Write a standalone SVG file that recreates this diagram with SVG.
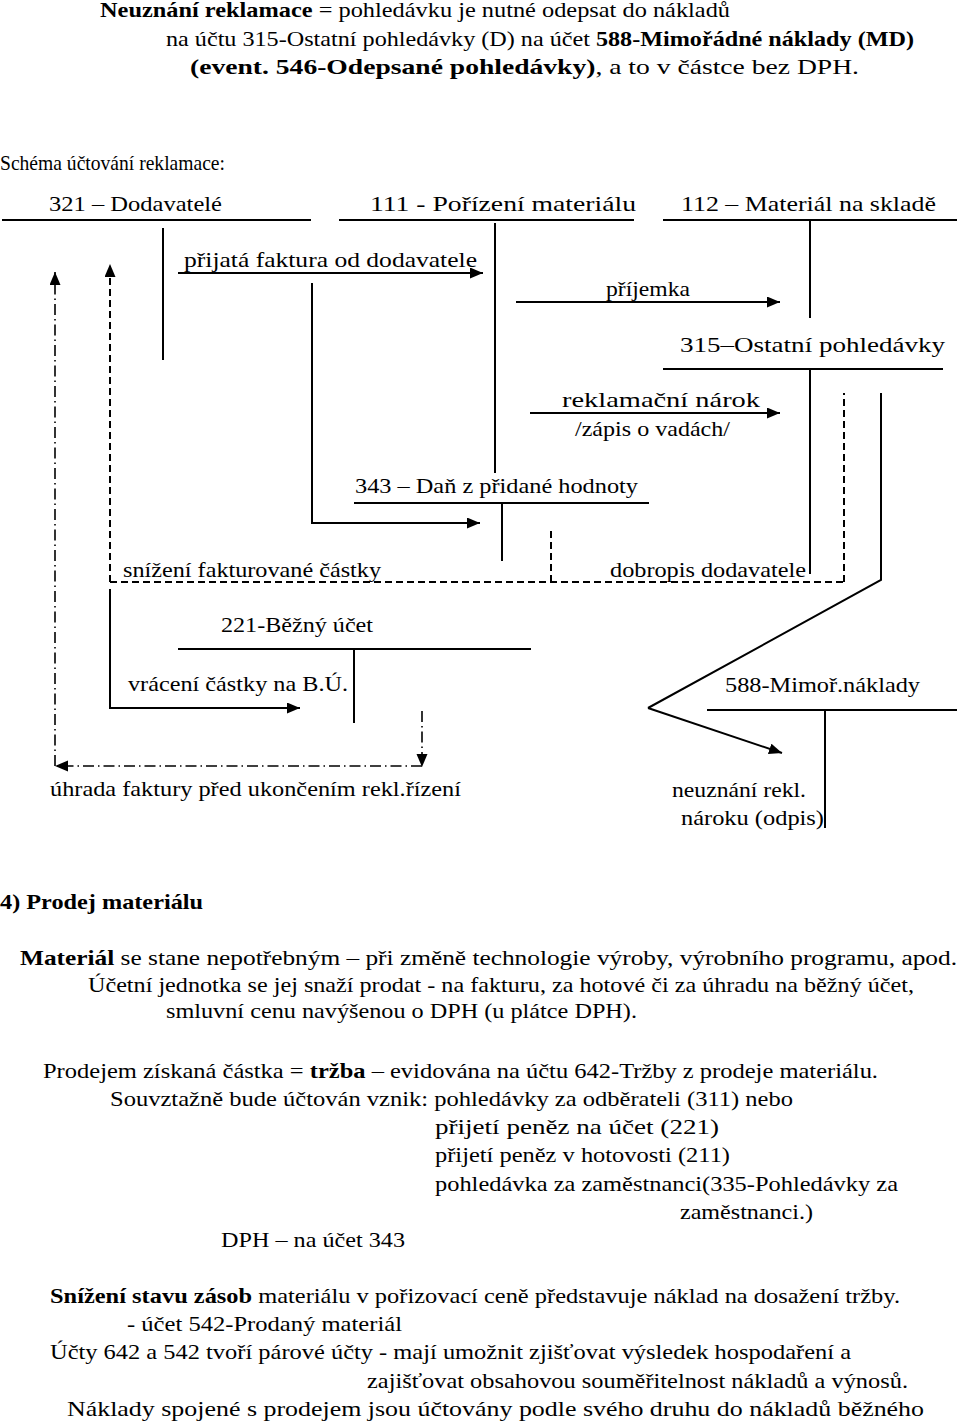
<svg xmlns="http://www.w3.org/2000/svg" width="960" height="1422" viewBox="0 0 960 1422">
<style>
text{font-family:"Liberation Serif","Times New Roman",serif;font-size:21px;fill:#000}
.b{font-weight:bold}
.t{font-size:22px}
.ln{stroke:#000;stroke-width:2;fill:none}
.da{stroke:#000;stroke-width:2;fill:none;stroke-dasharray:7 4}
.dd{stroke:#000;stroke-width:1.6;fill:none;stroke-dasharray:11 4 1.5 4}
</style>
<defs>
<marker id="ah" markerUnits="userSpaceOnUse" markerWidth="14" markerHeight="12" refX="13" refY="5.5" orient="auto">
<path d="M0,0 L13,5.5 L0,11 z" fill="#000"/>
</marker>
</defs>
<rect width="960" height="1422" fill="#fff"/>

<g id="intro">
<text x="100" y="17" textLength="630" lengthAdjust="spacingAndGlyphs"><tspan class="b">Neuznání reklamace</tspan> = pohledávku je nutné odepsat do nákladů</text>
<text x="166" y="46" textLength="748" lengthAdjust="spacingAndGlyphs">na účtu 315-Ostatní pohledávky (D) na účet <tspan class="b">588-Mimořádné náklady (MD)</tspan></text>
<text x="190" y="74" textLength="669" lengthAdjust="spacingAndGlyphs"><tspan class="b">(event. 546-Odepsané pohledávky)</tspan>, a to v částce bez DPH.</text>
<text x="0" y="170" textLength="225" lengthAdjust="spacingAndGlyphs">Schéma účtování reklamace:</text>
</g>

<g id="acc321">
<text x="49" y="211" textLength="173" lengthAdjust="spacingAndGlyphs">321 – Dodavatelé</text>
<line class="ln" x1="2" y1="220" x2="311" y2="220"/>
<line class="ln" x1="163" y1="228" x2="163" y2="360"/>
</g>
<g id="acc111">
<text x="370" y="211" textLength="266" lengthAdjust="spacingAndGlyphs">111 -  Pořízení materiálu</text>
<line class="ln" x1="339" y1="220" x2="634" y2="220"/>
<line class="ln" x1="495" y1="223" x2="495" y2="473"/>
</g>
<g id="acc112">
<text x="681" y="211" textLength="255" lengthAdjust="spacingAndGlyphs">112 – Materiál na skladě</text>
<line class="ln" x1="663" y1="220" x2="957" y2="220"/>
<line class="ln" x1="810" y1="220" x2="810" y2="318"/>
</g>
<g id="acc315">
<text x="680" y="352" textLength="265" lengthAdjust="spacingAndGlyphs">315–Ostatní pohledávky</text>
<line class="ln" x1="663" y1="369" x2="943" y2="369"/>
<line class="ln" x1="810" y1="369" x2="810" y2="574"/>
</g>
<g id="acc343">
<text x="355" y="493" textLength="283" lengthAdjust="spacingAndGlyphs">343 – Daň z přidané hodnoty</text>
<line class="ln" x1="354" y1="503" x2="649" y2="503"/>
<line class="ln" x1="502" y1="503" x2="502" y2="561"/>
</g>
<g id="acc221">
<text x="221" y="632" textLength="152" lengthAdjust="spacingAndGlyphs">221-Běžný účet</text>
<line class="ln" x1="178" y1="649" x2="531" y2="649"/>
<line class="ln" x1="354" y1="649" x2="354" y2="723"/>
</g>
<g id="acc588">
<text x="725" y="692" textLength="195" lengthAdjust="spacingAndGlyphs">588-Mimoř.náklady</text>
<line class="ln" x1="707" y1="710" x2="957" y2="710"/>
<line class="ln" x1="825" y1="710" x2="825" y2="828"/>
</g>

<g id="connectors">
<line class="ln" x1="178" y1="273" x2="483" y2="273" marker-end="url(#ah)"/>
<polyline class="ln" points="312,283 312,523 480,523" marker-end="url(#ah)"/>
<line class="ln" x1="516" y1="302" x2="780" y2="302" marker-end="url(#ah)"/>
<line class="ln" x1="530" y1="413" x2="780" y2="413" marker-end="url(#ah)"/>
<line class="da" x1="110" y1="582" x2="110" y2="264" marker-end="url(#ah)"/>
<line class="da" x1="110" y1="582" x2="844" y2="582"/>
<line class="da" x1="844" y1="582" x2="844" y2="393"/>
<line class="da" x1="551" y1="582" x2="551" y2="527"/>
<polyline class="ln" points="881,393 881,580 648,708"/>
<line class="ln" x1="648" y1="708" x2="782" y2="753" marker-end="url(#ah)"/>
<polyline class="ln" points="110,589 110,708 300,708" marker-end="url(#ah)"/>
<line class="dd" x1="422" y1="711" x2="422" y2="767" marker-end="url(#ah)"/>
<line class="dd" x1="422" y1="766" x2="55" y2="766" marker-end="url(#ah)"/>
<line class="dd" x1="55" y1="766" x2="55" y2="272" marker-end="url(#ah)"/>
</g>

<g id="labels">
<text x="184" y="267" textLength="293" lengthAdjust="spacingAndGlyphs">přijatá faktura od dodavatele</text>
<text x="606" y="296" textLength="84" lengthAdjust="spacingAndGlyphs">příjemka</text>
<text x="562" y="407" textLength="198" lengthAdjust="spacingAndGlyphs">reklamační nárok</text>
<text x="575" y="436" textLength="155" lengthAdjust="spacingAndGlyphs">/zápis o vadách/</text>
<text x="123" y="577" textLength="258" lengthAdjust="spacingAndGlyphs">snížení fakturované částky</text>
<text x="610" y="577" textLength="196" lengthAdjust="spacingAndGlyphs">dobropis dodavatele</text>
<text x="128" y="691" textLength="220" lengthAdjust="spacingAndGlyphs">vrácení částky na B.Ú.</text>
<text x="50" y="796" textLength="411" lengthAdjust="spacingAndGlyphs">úhrada faktury před ukončením rekl.řízení</text>
<text x="672" y="797" textLength="134" lengthAdjust="spacingAndGlyphs">neuznání rekl.</text>
<text x="681" y="825" textLength="143" lengthAdjust="spacingAndGlyphs">nároku (odpis)</text>
</g>

<g id="section4">
<text x="0" y="909" class="b" textLength="203" lengthAdjust="spacingAndGlyphs">4) Prodej materiálu</text>
<text x="20" y="965" textLength="937" lengthAdjust="spacingAndGlyphs"><tspan class="b">Materiál</tspan> se stane nepotřebným – při změně technologie výroby, výrobního programu, apod.</text>
<text x="88" y="992" textLength="826" lengthAdjust="spacingAndGlyphs">Účetní jednotka se jej snaží prodat - na fakturu, za hotové či za úhradu na běžný účet,</text>
<text x="166" y="1018" textLength="471" lengthAdjust="spacingAndGlyphs">smluvní cenu navýšenou o DPH (u plátce DPH).</text>
<text class="t" x="43" y="1078" textLength="835" lengthAdjust="spacingAndGlyphs">Prodejem získaná částka = <tspan class="b">tržba</tspan> – evidována na účtu 642-Tržby z prodeje materiálu.</text>
<text class="t" x="110" y="1106" textLength="683" lengthAdjust="spacingAndGlyphs">Souvztažně bude účtován vznik: pohledávky za odběrateli (311) nebo</text>
<text class="t" x="435" y="1134" textLength="284" lengthAdjust="spacingAndGlyphs">přijetí peněz na účet (221)</text>
<text class="t" x="435" y="1162" textLength="295" lengthAdjust="spacingAndGlyphs">přijetí peněz v hotovosti (211)</text>
<text class="t" x="435" y="1191" textLength="463" lengthAdjust="spacingAndGlyphs">pohledávka za zaměstnanci(335-Pohledávky za</text>
<text class="t" x="680" y="1219" textLength="133" lengthAdjust="spacingAndGlyphs">zaměstnanci.)</text>
<text class="t" x="221" y="1247" textLength="184" lengthAdjust="spacingAndGlyphs">DPH – na účet 343</text>
<text class="t" x="50" y="1303" textLength="850" lengthAdjust="spacingAndGlyphs"><tspan class="b">Snížení stavu zásob</tspan> materiálu v pořizovací ceně představuje náklad na dosažení tržby.</text>
<text class="t" x="127" y="1331" textLength="275" lengthAdjust="spacingAndGlyphs">- účet 542-Prodaný materiál</text>
<text class="t" x="50" y="1359" textLength="801" lengthAdjust="spacingAndGlyphs">Účty 642 a 542 tvoří párové účty - mají umožnit zjišťovat výsledek hospodaření a</text>
<text class="t" x="367" y="1388" textLength="541" lengthAdjust="spacingAndGlyphs">zajišťovat obsahovou souměřitelnost nákladů a výnosů.</text>
<text class="t" x="67" y="1416" textLength="857" lengthAdjust="spacingAndGlyphs">Náklady spojené s prodejem jsou účtovány podle svého druhu do nákladů běžného</text>
</g>
</svg>
